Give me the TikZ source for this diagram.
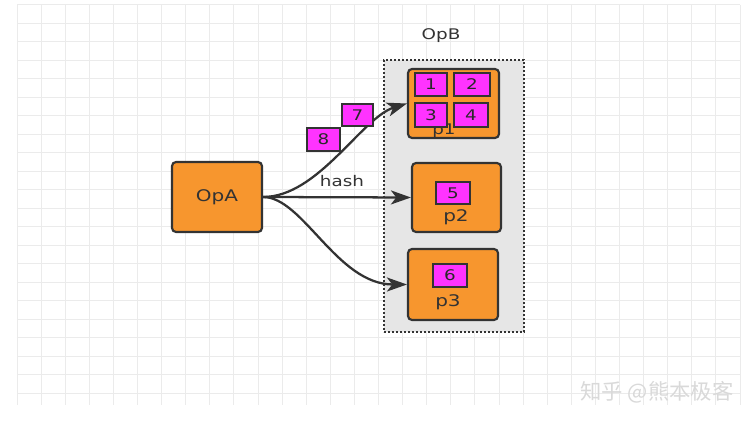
\documentclass[tikz,border=0pt]{standalone}
\usepackage{fontspec}
\usetikzlibrary{arrows.meta}
\setmainfont[FakeStretch=1.25]{DejaVu Sans}
\newfontfamily\cjkfont{Noto Sans CJK SC}

\definecolor{opfill}{HTML}{F7962E}
\definecolor{partfill}{HTML}{FF33FF}
\definecolor{edgegray}{HTML}{333333}
\definecolor{boxgray}{HTML}{E6E6E6}
\definecolor{gridgray}{HTML}{EBEBEB}

\tikzset{
    opbox/.style={draw=edgegray, line width=1.6pt, fill=opfill, rounded corners=3pt,
        font=\fontsize{12}{14}\selectfont, text=edgegray},
    partbox/.style={draw=edgegray, line width=1.3pt, fill=partfill, inner sep=0pt,
        font=\fontsize{11}{13}\selectfont, text=edgegray!80!black},
    flow/.style={-{Stealth[length=15pt, width=10.5pt, inset=4pt]}, line width=1.7pt, draw=edgegray}
}

\begin{document}
\begin{tikzpicture}[x=0.75pt, y=-0.75pt]
    \useasboundingbox[fill=white] (0,0) rectangle (756,423);

    % grid
    \foreach \gx in {0,...,30}
        \draw[gridgray, line width=0.75pt] (17+\gx*24.1,5) -- (17+\gx*24.1,405);
    \foreach \gy in {0,...,21}
        \draw[gridgray, line width=0.75pt] (17,5+\gy*18.5) -- (740,5+\gy*18.5);

    % OpB container
    \node[draw=edgegray, fill=boxgray, line width=1.6pt, dash pattern=on 1.4pt off 1.6pt,
        minimum width=105pt, minimum height=204pt, inner sep=0pt] (opb) at (454,196) {};
    \node[font=\fontsize{11}{13}\selectfont, text=edgegray] (opblabel) at (441,36) {OpB};

    % operators
    \node[opbox, minimum width=67.5pt, minimum height=52.5pt] (opa) at (217,197) {OpA};
    \node[opbox, minimum width=68.25pt, minimum height=51.75pt] (pone) at (453.5,103.5) {};
    \node[opbox, minimum width=66.75pt, minimum height=51.75pt] (ptwo) at (456.5,197.5) {};
    \node[opbox, minimum width=67.5pt, minimum height=53.25pt] (pthree) at (453,284.5) {};

    \node[font=\fontsize{11}{13}\selectfont, text=edgegray] (ponelabel) at (444,131) {p1};
    \node[font=\fontsize{12}{14}\selectfont, text=edgegray] (ptwolabel) at (456,217) {p2};
    \node[font=\fontsize{12}{14}\selectfont, text=edgegray] (pthreelabel) at (448,302) {p3};

    % partitions
    \node[partbox, minimum width=24pt, minimum height=17.25pt] (one) at (431,84.5) {1};
    \node[partbox, minimum width=27pt, minimum height=17.25pt] (two) at (472,84.5) {2};
    \node[partbox, minimum width=24pt, minimum height=18pt] (three) at (431,115) {3};
    \node[partbox, minimum width=25.5pt, minimum height=18pt] (four) at (471,115) {4};
    \node[partbox, minimum width=25.5pt, minimum height=16.5pt] (five) at (453,193) {5};
    \node[partbox, minimum width=25.5pt, minimum height=17.25pt] (six) at (450,275.5) {6};

    % hash shuffle
    \draw[flow] (opa.east) .. controls +(55,0) and +(-45,14) .. (pone.west);
    \draw[flow] (opa.east) -- (ptwo.west);
    \draw[flow] (opa.east) .. controls +(40,0) and +(-70,0) .. (pthree.west);
    \node[font=\fontsize{11}{13}\selectfont, text=edgegray] (hash) at (342,181) {hash};

    \node[partbox, minimum width=23.25pt, minimum height=16.5pt] (seven) at (357.5,115) {7};
    \node[partbox, minimum width=24.75pt, minimum height=17.25pt] (eight) at (323.5,139.5) {8};

    \node[text=gray!30, font=\cjkfont\fontsize{16}{18}\selectfont] (mark) at (657,392) {知乎 @熊本极客};
\end{tikzpicture}
\end{document}
